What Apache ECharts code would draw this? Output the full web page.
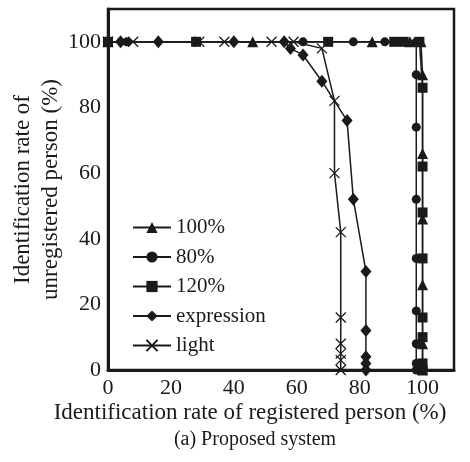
<!DOCTYPE html>
<html>
<head>
<meta charset="utf-8">
<script src="https://cdn.jsdelivr.net/npm/echarts@6/dist/echarts.min.js"></script>
<style>html,body{margin:0;padding:0;background:#fff}#c{width:470px;height:462px}</style>
</head>
<body>
<div id="c"></div>
<script>
// Data (x = registered %, y = unregistered %)
var seriesNames = ['100%', '80%', '120%', 'expression', 'light'];

var x100 = [0, 46, 84, 96, 99.5, 100, 100, 100, 100, 100, 100, 100];
var y100 = [100, 100, 100, 100, 100, 90, 66, 46, 26, 8, 2, 0];

var x80 = [0, 6, 62, 78, 88, 98, 98, 98, 98, 98, 98, 98, 98, 98];
var y80 = [100, 100, 100, 100, 100, 100, 90, 74, 52, 34, 18, 8, 2, 0];

var x120 = [0, 28, 70, 91, 94, 99, 100, 100, 100, 100, 100, 100, 100, 100];
var y120 = [100, 100, 100, 100, 100, 100, 86, 62, 48, 34, 16, 10, 2, 0];

var xExpr = [0, 4, 16, 40, 56, 58, 62, 68, 76, 78, 82, 82, 82, 82, 82];
var yExpr = [100, 100, 100, 100, 100, 98, 96, 88, 76, 52, 30, 12, 4, 2, 0];

var xLight = [0, 8, 29, 37, 52, 59, 68, 72, 72, 74, 74, 74, 74, 74, 74];
var yLight = [100, 100, 100, 100, 100, 100, 98, 82, 60, 42, 16, 8, 5, 3, 0];

var xTicks = [0, 20, 40, 60, 80, 100];
var yTicks = [0, 20, 40, 60, 80, 100];

function pairs(xs, ys) { return xs.map(function (v, i) { return [v, ys[i]]; }); }

var ink = '#1a1a1a';
var font = 'Liberation Serif';
var crossPath = 'path://M0,0L10,10M10,0L0,10';

function mk(name, data, symbol, size, extraItem) {
  return {
    name: name, type: 'line', data: data,
    symbol: symbol, symbolSize: size,
    showAllSymbol: true,
    lineStyle: { color: ink, width: 1.5 },
    itemStyle: Object.assign({ color: ink, borderWidth: 0 }, extraItem || {}),
    emphasis: { disabled: true },
    animation: false
  };
}

var chart = echarts.init(document.getElementById('c'), null, { renderer: 'canvas' });
chart.setOption({
  backgroundColor: '#fff',
  animation: false,
  textStyle: { fontFamily: font, color: ink },
  grid: { left: 108, right: 16, top: 9, bottom: 92, show: true, borderColor: ink, borderWidth: 2.5,
    containLabel: false, outerBoundsMode: 'none' },
  title: {
    text: '(a) Proposed system', left: 250, top: 425, textAlign: 'center',
    textStyle: { fontFamily: font, fontSize: 20, fontWeight: 'normal', color: ink }
  },
  legend: {
    orient: 'vertical', left: 127, top: 212,
    itemWidth: 38, itemHeight: 14, itemGap: 8.5,
    textStyle: { fontFamily: font, fontSize: 21, color: ink },
    data: seriesNames
  },
  xAxis: {
    type: 'value', min: 0, max: 110, interval: 20,
    name: 'Identification rate of registered person (%)',
    nameLocation: 'middle', nameGap: 31, nameMoveOverlap: false,
    nameTextStyle: { fontFamily: font, fontSize: 23, color: ink, padding: [0, 62, 0, 0] },
    axisLine: { show: true, onZero: false, lineStyle: { color: ink, width: 3 } },
    axisTick: { show: false },
    splitLine: { show: false },
    axisLabel: { fontFamily: font, fontSize: 22, color: ink, margin: 7, showMaxLabel: false,
      formatter: function (v) { return xTicks.indexOf(v) >= 0 ? String(v) : ''; } }
  },
  yAxis: {
    type: 'value', min: 0, max: 110, interval: 20,
    name: 'Identification rate of\nunregistered person (%)',
    nameLocation: 'middle', nameGap: 43, nameMoveOverlap: false,
    nameTextStyle: { fontFamily: font, fontSize: 23, color: ink, lineHeight: 28 },
    axisLine: { show: true, onZero: false, lineStyle: { color: ink, width: 3 } },
    axisTick: { show: false },
    splitLine: { show: false },
    axisLabel: { fontFamily: font, fontSize: 22, color: ink, margin: 7, showMaxLabel: false,
      formatter: function (v) { return yTicks.indexOf(v) >= 0 ? String(v) : ''; } }
  },
  series: [
    mk('100%', pairs(x100, y100), 'triangle', 11),
    mk('80%', pairs(x80, y80), 'circle', 9),
    mk('120%', pairs(x120, y120), 'rect', 10),
    mk('expression', pairs(xExpr, yExpr), 'diamond', [11, 13]),
    mk('light', pairs(xLight, yLight), crossPath, 10, { color: 'none', borderColor: ink, borderWidth: 1.3 })
  ]
});
</script>
</body>
</html>
